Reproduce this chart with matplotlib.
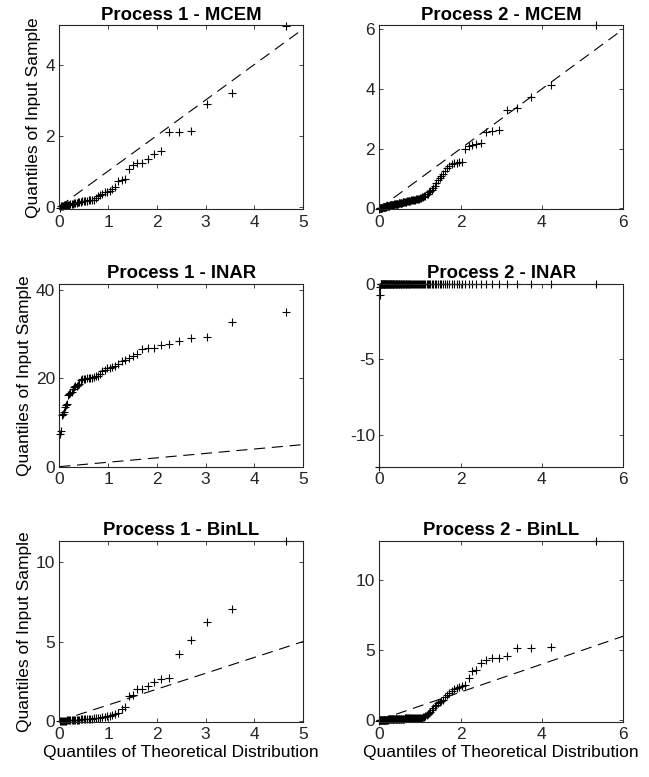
import numpy as np
import matplotlib
matplotlib.use("Agg")
import matplotlib.pyplot as plt

plt.rcParams['font.family'] = ['Liberation Sans', 'DejaVu Sans']
plt.rcParams['axes.unicode_minus'] = False

# Sorted samples (y of each QQ plot), process 1 has 52 values, process 2 has 104
p1_mcem = [-0.05, 0.01, 0.02, 0.03, 0.04, 0.04, 0.05, 0.05, 0.06, 0.06,
           0.07, 0.08, 0.08, 0.09, 0.10, 0.11, 0.12, 0.13, 0.14, 0.15,
           0.15, 0.16, 0.17, 0.18, 0.18, 0.19, 0.20, 0.25, 0.30, 0.33,
           0.37, 0.40, 0.42, 0.45, 0.50, 0.55, 0.72, 0.75, 0.78, 1.05,
           1.17, 1.22, 1.24, 1.33, 1.47, 1.58, 2.11, 2.11, 2.14, 2.89,
           3.21, 5.09]

p1_inar = [7.3, 8.0, 11.8, 12.0, 12.5, 13.5, 13.9, 14.2, 16.2, 16.5,
           16.8, 17.0, 17.6, 18.0, 18.2, 18.3, 18.5, 18.8, 19.6, 19.8,
           19.9, 19.9, 20.0, 20.0, 20.0, 20.1, 20.3, 20.5, 20.6, 21.0,
           21.7, 22.0, 22.3, 22.4, 22.6, 22.8, 23.2, 23.9, 24.1, 24.6,
           25.1, 25.5, 26.6, 26.9, 27.0, 27.5, 27.9, 28.5, 29.1, 29.3,
           32.8, 35.1]

p1_binll = [-0.03, 0.00, 0.00, 0.01, 0.01, 0.02, 0.02, 0.03, 0.03, 0.04,
            0.04, 0.05, 0.05, 0.06, 0.06, 0.07, 0.07, 0.08, 0.09, 0.10,
            0.10, 0.11, 0.12, 0.13, 0.14, 0.15, 0.16, 0.17, 0.19, 0.21,
            0.23, 0.25, 0.28, 0.33, 0.40, 0.45, 0.50, 0.75, 0.90, 1.57,
            1.63, 2.03, 2.03, 2.20, 2.47, 2.61, 2.72, 4.23, 5.08, 6.21,
            7.05, 11.36]

p2_mcem = [-0.03, 0.01, 0.01, 0.02, 0.02, 0.03, 0.03, 0.03, 0.04, 0.04,
           0.05, 0.05, 0.05, 0.06, 0.06, 0.06, 0.07, 0.07, 0.08, 0.08,
           0.08, 0.09, 0.09, 0.10, 0.10, 0.10, 0.11, 0.11, 0.12, 0.12,
           0.13, 0.13, 0.14, 0.14, 0.14, 0.15, 0.15, 0.16, 0.16, 0.17,
           0.17, 0.18, 0.18, 0.19, 0.19, 0.20, 0.21, 0.21, 0.22, 0.22,
           0.23, 0.24, 0.25, 0.25, 0.26, 0.26, 0.27, 0.27, 0.28, 0.29,
           0.29, 0.30, 0.31, 0.32, 0.33, 0.34, 0.35, 0.37, 0.38, 0.40,
           0.43, 0.47, 0.50, 0.54, 0.58, 0.63, 0.67, 0.76, 0.85, 0.94,
           1.02, 1.10, 1.17, 1.25, 1.35, 1.43, 1.49, 1.51, 1.53, 1.55,
           1.56, 1.99, 2.08, 2.14, 2.16, 2.18, 2.56, 2.59, 2.62, 3.29,
           3.36, 3.75, 4.14, 6.14]

p2_inar = [-12.1, -0.7, -0.2, 0.0, 0.0, 0.0, 0.0, 0.0, 0.0, 0.0,
           0.0, 0.0, 0.0, 0.0, 0.0, 0.0, 0.0, 0.0, 0.0, 0.0,
           0.0, 0.0, 0.0, 0.0, 0.0, 0.0, 0.0, 0.0, 0.0, 0.0,
           0.0, 0.0, 0.0, 0.0, 0.0, 0.0, 0.0, 0.0, 0.0, 0.0,
           0.0, 0.0, 0.0, 0.0, 0.0, 0.0, 0.0, 0.0, 0.0, 0.0,
           0.0, 0.0, 0.0, 0.0, 0.0, 0.0, 0.0, 0.0, 0.0, 0.0,
           0.0, 0.0, 0.0, 0.0, 0.0, 0.0, 0.0, 0.0, 0.0, 0.0,
           0.0, 0.0, 0.0, 0.0, 0.0, 0.0, 0.0, 0.0, 0.0, 0.0,
           0.0, 0.0, 0.0, 0.0, 0.0, 0.0, 0.0, 0.0, 0.0, 0.0,
           0.0, 0.0, 0.0, 0.0, 0.0, 0.0, 0.0, 0.0, 0.0, 0.0,
           0.0, 0.0, 0.0, 0.0]

p2_binll = [-0.10, 0.00, 0.00, 0.00, 0.00, 0.00, 0.00, 0.00, 0.01, 0.01,
            0.01, 0.01, 0.02, 0.02, 0.02, 0.02, 0.03, 0.03, 0.03, 0.03,
            0.04, 0.04, 0.04, 0.04, 0.05, 0.05, 0.05, 0.05, 0.06, 0.06,
            0.06, 0.06, 0.07, 0.07, 0.07, 0.07, 0.08, 0.08, 0.08, 0.08,
            0.09, 0.09, 0.09, 0.09, 0.10, 0.10, 0.10, 0.10, 0.11, 0.11,
            0.11, 0.11, 0.12, 0.12, 0.12, 0.12, 0.13, 0.13, 0.13, 0.13,
            0.14, 0.14, 0.14, 0.15, 0.15, 0.16, 0.16, 0.17, 0.18, 0.20,
            0.27, 0.34, 0.45, 0.50, 0.60, 0.75, 0.88, 1.00, 1.10, 1.19,
            1.26, 1.34, 1.46, 1.65, 1.82, 1.95, 2.05, 2.22, 2.30, 2.40,
            2.46, 2.51, 3.03, 3.51, 3.55, 4.10, 4.30, 4.42, 4.46, 4.58,
            5.18, 5.18, 5.25, 12.84]

titles = ["Process 1 - MCEM", "Process 2 - MCEM",
          "Process 1 - INAR", "Process 2 - INAR",
          "Process 1 - BinLL", "Process 2 - BinLL"]
samples = [p1_mcem, p2_mcem, p1_inar, p2_inar, p1_binll, p2_binll]

xmax = [5, 6, 5, 6, 5, 6]
ylims = [(-0.075, 5.1), (-0.03, 6.13), (0, 41.4),
         (-12.1, 0.0), (-0.05, 11.36), (-0.12, 12.85)]
yticks = [[0, 2, 4], [0, 2, 4, 6], [0, 20, 40],
          [-10, -5, 0], [0, 5, 10], [0, 5, 10]]
xticks = [[0, 1, 2, 3, 4, 5], [0, 2, 4, 6]]


def exp_quantiles(n):
    # theoretical exponential quantiles at plotting positions (i-0.5)/n
    p = (np.arange(1, n + 1) - 0.5) / n
    return -np.log(1 - p)


fig = plt.figure(figsize=(6.49, 7.77), dpi=100, facecolor='white')

lefts = [0.0914, 0.5844]
bottoms = [0.7306, 0.3994, 0.0712]
heights = [0.2366, 0.2351, 0.2329]
width = 0.3755

for k in range(6):
    row, col = k // 2, k % 2
    ax = fig.add_axes([lefts[col], bottoms[row], width, heights[row]])
    y = np.sort(np.array(samples[k]))
    x = exp_quantiles(len(y))

    ax.plot([0, xmax[k]], [0, xmax[k]], color='black', lw=0.8,
            linestyle=(0, (10, 6)))
    ax.plot(x, y, '+', color='black', ms=5.5, mew=0.8, clip_on=False)

    ax.set_xlim(0, xmax[k])
    ax.set_ylim(*ylims[k])
    ax.set_xticks(xticks[col])
    ax.set_yticks(yticks[k])
    ax.set_title(titles[k], fontsize=13.3, fontweight='bold', pad=4)
    ax.tick_params(direction='in', length=3, width=0.6, top=True, right=True,
                   labelsize=12.5, colors='#262626')
    ax.tick_params(axis='x', pad=4)
    ax.tick_params(axis='y', pad=3)
    for s in ax.spines.values():
        s.set_linewidth(0.8)
        s.set_color('#262626')
    if col == 0:
        ax.set_ylabel("Quantiles of Input Sample", fontsize=12.5, labelpad=3)
    if row == 2:
        ax.set_xlabel("Quantiles of Theoretical Distribution", fontsize=12.5,
                      labelpad=2)

fig.savefig("out.png", dpi=100)
